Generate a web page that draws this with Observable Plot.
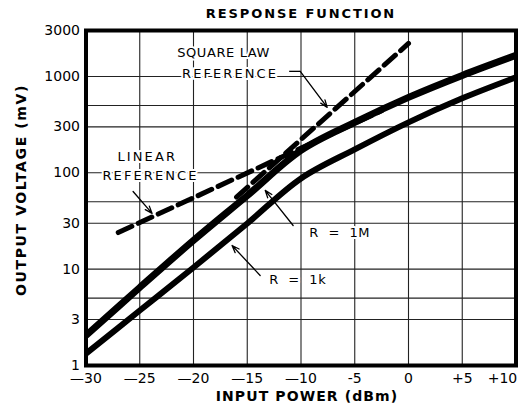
<!DOCTYPE html>
<html><head><meta charset="utf-8">
<script src="https://cdn.jsdelivr.net/npm/d3@7"></script>
<script src="https://cdn.jsdelivr.net/npm/@observablehq/plot@0.6"></script>
<style>
body{margin:0;background:#fff;}
svg text{white-space:pre;}
</style></head><body><div id="chart"></div>
<script>
// Data
const powerDbm = [-30, -25, -20, -15, -10, -5, 0, 5, 10];
const outR1M = [2.05, 6.45, 19.9, 58, 171, 334, 607, 1026, 1656];
const outR1k = [1.33, 3.72, 10.4, 29.8, 87.5, 175, 334, 593, 979];
const linearRefDbm = [-27, -2.5];
const linearRefMv = [24, 440];
const squareRefDbm = [-16, 0];
const squareRefMv = [56, 2200];

const xTicks = [-30, -25, -20, -15, -10, -5, 0, 5];
const xTickLabels = ["—30", "—25", "—20", "—15", "—10", "-5", "0", "+5"];
const xEndTick = [10];
const xEndTickLabel = ["+10"];
const yTicks = [1, 3, 5, 10, 30, 50, 100, 300, 500, 1000, 3000];
const yTickLabels = ["1", "3", "5", "10", "30", "50", "100", "300", "500", "1000", "3000"];
const xGrid = [-25, -20, -15, -10, -5, 0, 5];
const yGrid = [3, 5, 10, 30, 50, 100, 300, 500, 1000];

const noteText = ["SQUARE LAW", "REFERENCE", "LINEAR", "REFERENCE", "R  =  1M", "R  =  1k"];
const noteDbm = [-17.2, -16.6, -24.3, -24.0, -6.4, -10.3];
const noteMv = [1778, 1077, 148, 94, 24.1, 7.8];
const wideNotes = ["LINEAR", "REFERENCE"];

const leaderDbm1 = [-11.1];
const leaderDbm2 = [-10.07];
const leaderMv = [1130];
const arrowDbm1 = [-10.07, -25.62, -10.73, -13.8];
const arrowMv1 = [1130, 64, 28.4, 8.6];
const arrowDbm2 = [-7.56, -23.85, -13.33, -16.41];
const arrowMv2 = [478, 37.9, 65.7, 17.6];

const title = "RESPONSE FUNCTION";
const xLabel = "INPUT POWER (dBm)";
const yLabel = "OUTPUT VOLTAGE (mV)";

// Build tables
const r1M = powerDbm.map((p, i) => ({p, v: outR1M[i]}));
const r1k = powerDbm.map((p, i) => ({p, v: outR1k[i]}));
const linRef = linearRefDbm.map((p, i) => ({p, v: linearRefMv[i]}));
const sqRef = squareRefDbm.map((p, i) => ({p, v: squareRefMv[i]}));
const notes = noteText.map((t, i) => ({t, x: noteDbm[i], y: noteMv[i]}));
const leaders = leaderDbm1.map((x1, i) => ({x1, x2: leaderDbm2[i], y: leaderMv[i]}));
const arrows = arrowDbm1.map((x1, i) => ({x1, y1: arrowMv1[i], x2: arrowDbm2[i], y2: arrowMv2[i]}));
const xFmt = new Map(xTicks.map((d, i) => [d, xTickLabels[i]]));
xEndTick.forEach((d, i) => xFmt.set(d, xEndTickLabel[i]));
const yFmt = new Map(yTicks.map((d, i) => [d, yTickLabels[i]]));

const tickFont = "DejaVu Sans, sans-serif";

const plot = Plot.plot({
  width: 518,
  height: 409,
  marginLeft: 85.5,
  marginRight: 2.5,
  marginTop: 30,
  marginBottom: 44,
  x: {domain: [-30, 10]},
  y: {type: "log", domain: [1, 3000]},
  style: {fontFamily: tickFont, fontSize: "14px", color: "#000", background: "#fff"},
  marks: [
    Plot.ruleX(xGrid, {stroke: "#222", strokeWidth: 1.1}),
    Plot.ruleY(yGrid, {stroke: "#222", strokeWidth: 1.1}),
    Plot.line(r1k, {x: "p", y: "v", curve: "catmull-rom", stroke: "#000", strokeWidth: 6, clip: true}),
    Plot.line(r1M, {x: "p", y: "v", curve: "catmull-rom", stroke: "#000", strokeWidth: 7, clip: true}),
    Plot.line(linRef, {x: "p", y: "v", stroke: "#000", strokeWidth: 5, strokeDasharray: "15,7"}),
    Plot.line(sqRef, {x: "p", y: "v", stroke: "#000", strokeWidth: 5, strokeDasharray: "15,7"}),
    Plot.text(notes, {x: "x", y: "y", text: "t", fontFamily: tickFont, fontSize: 13, fill: "#000",
      stroke: "#fff", strokeWidth: 4, paintOrder: "stroke"}),
    Plot.link(leaders, {x1: "x1", x2: "x2", y1: "y", y2: "y", stroke: "#000", strokeWidth: 1.3}),
    Plot.arrow(arrows, {x1: "x1", y1: "y1", x2: "x2", y2: "y2", stroke: "#000", strokeWidth: 1.3,
      headLength: 9, headAngle: 40, bend: 0}),
    Plot.frame({stroke: "#000", strokeWidth: 4}),
    Plot.axisY({ticks: yTicks, tickFormat: d => yFmt.get(d), tickSize: 0, tickPadding: 6, label: null, fontSize: 14}),
    Plot.axisX({ticks: xTicks, tickFormat: d => xFmt.get(d), tickSize: 0, tickPadding: 8, label: null, fontSize: 14}),
    Plot.axisX({ticks: xEndTick, tickFormat: d => xFmt.get(d), tickSize: 0, tickPadding: 8, label: null, fontSize: 14, dx: -13.5}),
    Plot.text([title], {frameAnchor: "top", dy: -22, fontWeight: "bold", fontSize: 13}),
    Plot.text([xLabel], {frameAnchor: "bottom", dx: 6, dy: 35, fontWeight: "bold", fontSize: 14}),
    Plot.text([yLabel], {frameAnchor: "left", rotate: -90, textAnchor: "middle", dx: -64, dy: -8, fontWeight: "bold", fontSize: 14})
  ]
});
document.getElementById("chart").appendChild(plot);
const spacingByText = new Map([[title, "1.9px"], [xLabel, "1.1px"], [yLabel, "1.6px"]]);
plot.querySelectorAll("text").forEach(t => {
  const s = t.textContent;
  if (spacingByText.has(s)) t.setAttribute("letter-spacing", spacingByText.get(s));
  else if (wideNotes.includes(s)) t.setAttribute("letter-spacing", "2.1px");
  else if (noteText.includes(s)) t.setAttribute("letter-spacing", "0.6px");
});
</script></body></html>
